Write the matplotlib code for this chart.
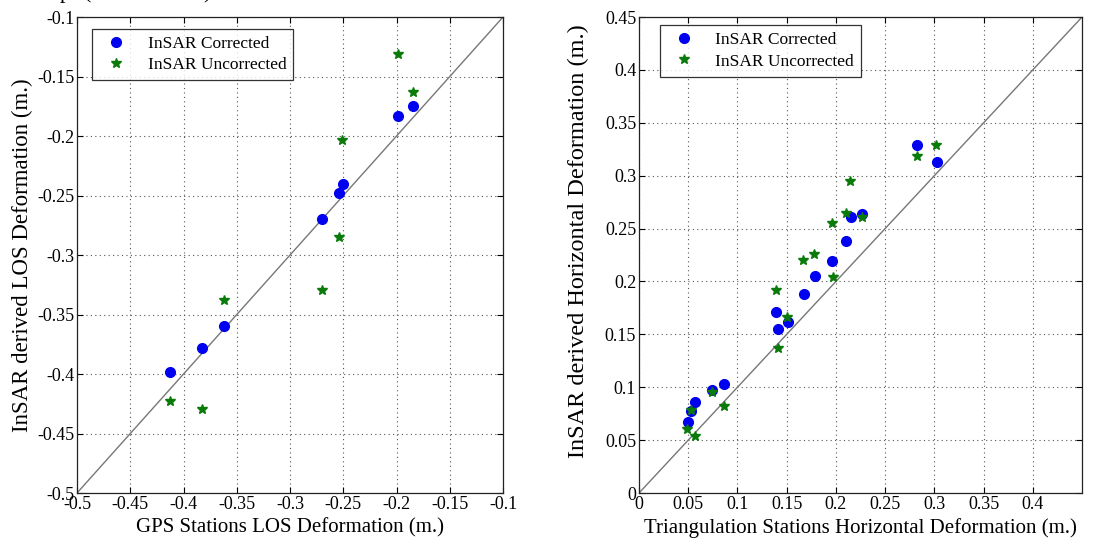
import matplotlib
matplotlib.use("Agg")
import matplotlib.pyplot as plt

# ---- data: left panel (GPS LOS) ----
gps_x_corr = [-0.199, -0.185, -0.250, -0.254, -0.270, -0.362, -0.383, -0.413]
gps_y_corr = [-0.183, -0.175, -0.240, -0.248, -0.270, -0.360, -0.378, -0.398]
gps_x_unc = [-0.199, -0.185, -0.251, -0.254, -0.270, -0.362, -0.413, -0.383]
gps_y_unc = [-0.131, -0.163, -0.203, -0.285, -0.329, -0.338, -0.423, -0.429]

# ---- data: right panel (triangulation horizontal) ----
tri_x_corr = [0.282, 0.303, 0.215, 0.227, 0.210, 0.196, 0.179, 0.168,
              0.1395, 0.151, 0.1415, 0.086, 0.074, 0.057, 0.053, 0.050]
tri_y_corr = [0.329, 0.313, 0.261, 0.264, 0.238, 0.219, 0.2055, 0.1885,
              0.171, 0.162, 0.155, 0.103, 0.097, 0.086, 0.078, 0.067]
tri_x_unc = [0.282, 0.302, 0.214, 0.210, 0.2265, 0.196, 0.178, 0.167,
             0.197, 0.139, 0.150, 0.141, 0.074, 0.086, 0.053, 0.049, 0.057]
tri_y_unc = [0.319, 0.329, 0.295, 0.265, 0.261, 0.2555, 0.2255, 0.2205,
             0.2045, 0.192, 0.166, 0.137, 0.0955, 0.082, 0.0785, 0.0605, 0.054]

left_ticks = [-0.5, -0.45, -0.4, -0.35, -0.3, -0.25, -0.2, -0.15, -0.1]
left_ticklabels = ["-0.5", "-0.45", "-0.4", "-0.35", "-0.3", "-0.25", "-0.2", "-0.15", "-0.1"]
right_xticks = [0, 0.05, 0.1, 0.15, 0.2, 0.25, 0.3, 0.35, 0.4]
right_xticklabels = ["0", "0.05", "0.1", "0.15", "0.2", "0.25", "0.3", "0.35", "0.4"]
right_yticks = [0, 0.05, 0.1, 0.15, 0.2, 0.25, 0.3, 0.35, 0.4, 0.45]
right_yticklabels = ["0", "0.05", "0.1", "0.15", "0.2", "0.25", "0.3", "0.35", "0.4", "0.45"]

plt.rcParams['font.family'] = ['Liberation Serif', 'DejaVu Serif']

BLUE = '#0000f0'
GREEN = '#0a7a0a'

fig = plt.figure(figsize=(11.10, 5.47), dpi=100)
ax1 = fig.add_axes([0.0694, 0.0987, 0.3838, 0.8702])
ax2 = fig.add_axes([0.5757, 0.0987, 0.3991, 0.8702])


def style(ax):
    ax.grid(True, linestyle=(0, (1, 3)), color='#555555', linewidth=0.8)
    ax.tick_params(direction='in', top=True, right=True, length=4,
                   labelsize=13, pad=2, width=0.8)
    for s in ax.spines.values():
        s.set_linewidth(0.9)
        s.set_color('#222222')


# Left panel
ax1.plot([-0.5, -0.1], [-0.5, -0.1], color='#777777', lw=1.0, zorder=2)
ax1.plot(gps_x_corr, gps_y_corr, 'o', color=BLUE, ms=7, ls='none',
         label='InSAR Corrected', zorder=3)
ax1.plot(gps_x_unc, gps_y_unc, '*', color=GREEN, ms=7, ls='none',
         label='InSAR Uncorrected', zorder=4)
ax1.set_xlim(-0.5, -0.1)
ax1.set_ylim(-0.5, -0.1)
ax1.set_xticks(left_ticks)
ax1.set_xticklabels(left_ticklabels)
ax1.set_yticks(left_ticks)
ax1.set_yticklabels(left_ticklabels)
style(ax1)
ax1.set_xlabel('GPS Stations LOS Deformation (m.)', fontsize=15, labelpad=4)
ax1.set_ylabel('InSAR derived LOS Deformation (m.)', fontsize=16.5, labelpad=3)
leg1 = ax1.legend(loc='upper left', bbox_to_anchor=(0.035, 0.975), fontsize=12.5,
                  frameon=True, fancybox=False, edgecolor='black',
                  handletextpad=0.8, borderpad=0.4, labelspacing=0.3,
                  handlelength=2.0, borderaxespad=0)
leg1.get_frame().set_linewidth(0.9)

# Right panel
ax2.plot([0, 0.45], [0, 0.45], color='#777777', lw=1.0, zorder=2)
ax2.plot(tri_x_corr, tri_y_corr, 'o', color=BLUE, ms=7, ls='none',
         label='InSAR Corrected', zorder=3)
ax2.plot(tri_x_unc, tri_y_unc, '*', color=GREEN, ms=7, ls='none',
         label='InSAR Uncorrected', zorder=4)
ax2.set_xlim(0, 0.45)
ax2.set_ylim(0, 0.45)
ax2.set_xticks(right_xticks)
ax2.set_xticklabels(right_xticklabels)
ax2.set_yticks(right_yticks)
ax2.set_yticklabels(right_yticklabels)
style(ax2)
ax2.set_xlabel('Triangulation Stations Horizontal Deformation (m.)', fontsize=15, labelpad=4)
ax2.set_ylabel('InSAR derived Horizontal Deformation (m.)', fontsize=17.5)
ax2.yaxis.set_label_coords(-0.113, 0.529)
leg2 = ax2.legend(loc='upper left', bbox_to_anchor=(0.047, 0.983), fontsize=12.5,
                  frameon=True, fancybox=False, edgecolor='black',
                  handletextpad=0.8, borderpad=0.4, labelspacing=0.3,
                  handlelength=2.0, borderaxespad=0)
leg2.get_frame().set_linewidth(0.9)

# clipped fragment of a caption at the very top
fig.text(60 / 1110, 1.012, 'p', fontsize=16, va='center', ha='left')
fig.text(84 / 1110, 1.012, '(', fontsize=16, va='center', ha='left')
fig.text(203 / 1110, 1.012, ')', fontsize=16, va='center', ha='left')

fig.savefig('out.png', dpi=100)
